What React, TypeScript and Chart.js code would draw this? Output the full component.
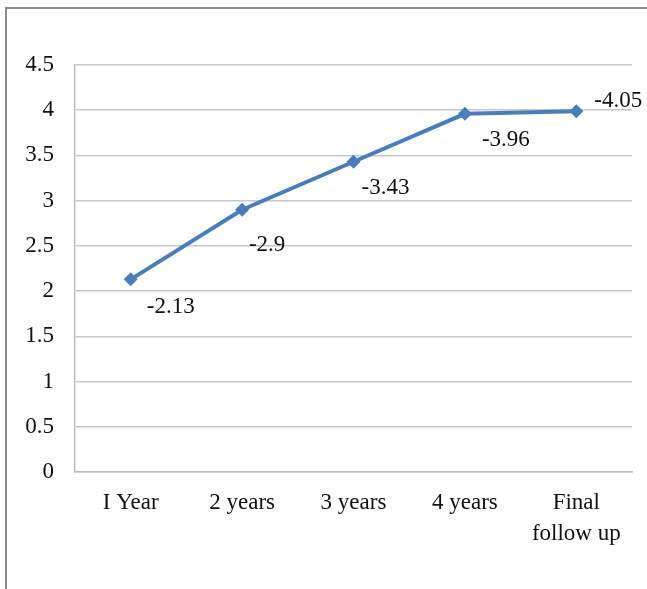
import React, { useEffect, useRef } from "react";
import { Chart, registerables } from "chart.js";

Chart.register(...registerables);

const categories: (string | string[])[] = ["I Year", "2 years", "3 years", "4 years", ["Final", "follow up"]];
const values: number[] = [2.13, 2.9, 3.43, 3.96, 3.99];
const valueLabels: string[] = ["-2.13", "-2.9", "-3.43", "-3.96", "-4.05"];
const yTicks: number[] = [0, 0.5, 1, 1.5, 2, 2.5, 3, 3.5, 4, 4.5];

const FONT = "'Liberation Serif', 'Times New Roman', serif";
const FONT_SIZE = 23;
// label placement relative to each point (style only)
const labelOffsets: [number, number][] = [
  [40, 28],
  [25, 35],
  [32, 26],
  [41, 26],
  [42, -10],
];

const labelPlugin = {
  id: "valueLabels",
  afterDatasetsDraw(chart: any) {
    const meta = chart.getDatasetMeta(0);
    const ctx = chart.ctx;
    ctx.save();
    ctx.font = `${FONT_SIZE}px ${FONT}`;
    ctx.fillStyle = "#111";
    ctx.textAlign = "center";
    ctx.textBaseline = "middle";
    meta.data.forEach((pt: any, i: number) => {
      const [dx, dy] = labelOffsets[i];
      ctx.fillText(valueLabels[i], pt.x + dx, pt.y + dy);
    });
    ctx.restore();
  },
};

export default function App() {
  const ref = useRef<HTMLCanvasElement>(null);
  useEffect(() => {
    document.body.style.margin = "0";
    const chart = new Chart(ref.current!, {
      type: "line",
      data: {
        labels: categories,
        datasets: [
          {
            data: values,
            borderColor: "#4a7ebb",
            backgroundColor: "#4a7ebb",
            borderWidth: 4,
            pointStyle: "rectRot",
            pointRadius: 7,
            pointBorderWidth: 0,
            tension: 0,
          },
        ],
      },
      options: {
        animation: false,
        responsive: false,
        maintainAspectRatio: false,
        layout: { padding: { left: 0, right: 15, top: 65, bottom: 0 } },
        plugins: { legend: { display: false }, tooltip: { enabled: false } },
        scales: {
          x: {
            offset: true,
            grid: { display: false, drawTicks: false },
            border: { display: true, color: "#bfbfbf", width: 1.5 },
            ticks: {
              padding: 15,
              color: "#111",
              maxRotation: 0,
              autoSkip: false,
              font: { family: FONT, size: FONT_SIZE, lineHeight: 1.35 },
            },
            afterFit: (s: any) => {
              s.height = 117;
            },
          },
          y: {
            min: 0,
            max: 4.5,
            afterBuildTicks: (s: any) => {
              s.ticks = yTicks.map((v) => ({ value: v }));
            },
            grid: { color: "#c8c8c8", lineWidth: 1.5, drawTicks: false },
            border: { display: true, color: "#bfbfbf", width: 1.5 },
            ticks: {
              padding: 21,
              color: "#111",
              font: { family: FONT, size: FONT_SIZE },
              callback: (v: any) => String(v),
            },
            afterFit: (s: any) => {
              s.width = 75;
            },
          },
        },
      },
      plugins: [labelPlugin],
    });
    return () => chart.destroy();
  }, []);
  return (
    <div style={{ position: "relative", width: 647, height: 589, background: "#fff" }}>
      <div
        style={{
          position: "absolute",
          left: 5,
          top: 7,
          right: 0,
          bottom: -4,
          borderLeft: "2px solid #8c8c8c",
          borderTop: "2px solid #8c8c8c",
        }}
      />
      <canvas ref={ref} width={647} height={589} style={{ position: "absolute", left: 0, top: 0 }} />
    </div>
  );
}
